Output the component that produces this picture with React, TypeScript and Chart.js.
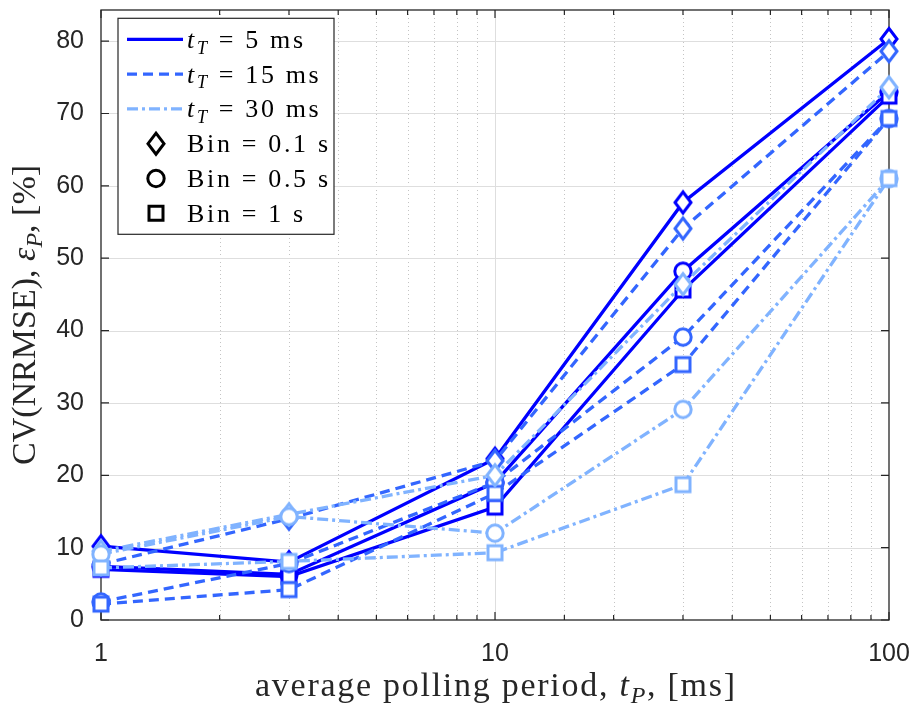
import React, { useEffect, useRef } from "react";
import { Chart, registerables } from "chart.js";

Chart.register(...registerables);

// ---------- data ----------
const pollingPeriods = [1, 3, 10, 30, 100];

const tT5_bin01 = [10.2, 8.0, 22.3, 57.7, 80.3];
const tT5_bin05 = [7.4, 6.3, 19.0, 48.2, 73.0];
const tT5_bin1 = [7.0, 6.0, 15.6, 45.6, 72.4];
const tT15_bin01 = [7.7, 14.0, 22.0, 54.1, 78.6];
const tT15_bin05 = [2.5, 7.8, 19.0, 39.1, 69.3];
const tT15_bin1 = [2.2, 4.2, 17.5, 35.3, 69.3];
const tT30_bin01 = [9.5, 14.6, 20.0, 46.4, 73.6];
const tT30_bin05 = [9.1, 14.3, 12.0, 29.1, 61.0];
const tT30_bin1 = [7.2, 8.1, 9.3, 18.7, 61.0];

const tTLabels = ["5", "15", "30"];
const binLabels = ["0.1", "0.5", "1"];
const xTickValues = [1, 10, 100];
const xTickLabels = ["1", "10", "100"];
const yTickValues = [0, 10, 20, 30, 40, 50, 60, 70, 80];
const yTickLabels = ["0", "10", "20", "30", "40", "50", "60", "70", "80"];
const xRange = [1, 100];
const yRange = [0, 84.3];

// ---------- styles ----------
const seriesValues = [
  [tT5_bin01, tT5_bin05, tT5_bin1],
  [tT15_bin01, tT15_bin05, tT15_bin1],
  [tT30_bin01, tT30_bin05, tT30_bin1],
];
const tTColors = ["#0000FF", "#3366FF", "#80B3FF"];
const tTDashes: number[][] = [[], [10, 6], [11, 4, 3, 4]];
const binShapes = ["diamond", "circle", "square"];
const AX = "#262626";
const SANS = "'Liberation Sans', Arial, Helvetica, sans-serif";
const SERIF = "'Liberation Serif', 'Times New Roman', serif";

function markerPath(ctx: CanvasRenderingContext2D, shape: string, cx: number, cy: number) {
  ctx.beginPath();
  if (shape === "diamond") {
    ctx.moveTo(cx, cy - 10.5);
    ctx.lineTo(cx + 8, cy);
    ctx.lineTo(cx, cy + 10.5);
    ctx.lineTo(cx - 8, cy);
    ctx.closePath();
  } else if (shape === "circle") {
    ctx.arc(cx, cy, 8.2, 0, Math.PI * 2);
  } else {
    ctx.rect(cx - 7, cy - 7, 14, 14);
  }
}

function makeMarker(shape: string, color: string) {
  const c = document.createElement("canvas");
  c.width = 34;
  c.height = 34;
  const g = c.getContext("2d")!;
  markerPath(g, shape, 17, 17);
  g.fillStyle = "#ffffff";
  g.fill();
  g.lineWidth = 3;
  g.strokeStyle = color;
  g.lineJoin = "miter";
  g.stroke();
  return c;
}

type Part = { t: string; it?: boolean; sub?: boolean };

function partFont(p: Part, size: number, fam: string) {
  return `${p.it ? "italic " : ""}${p.sub ? Math.round(size * 0.7) : size}px ${fam}`;
}

function layoutRich(ctx: CanvasRenderingContext2D, parts: Part[], size: number, fam: string, extra: number) {
  let x = 0;
  const items: { ch: string; font: string; x: number; dy: number }[] = [];
  let count = 0;
  parts.forEach((p) => {
    const f = partFont(p, size, fam);
    ctx.font = f;
    for (const ch of p.t) {
      items.push({ ch, font: f, x, dy: p.sub ? size * 0.22 : 0 });
      x += ctx.measureText(ch).width + extra;
      count++;
    }
  });
  return { items, width: x - extra, count };
}

function fitExtra(ctx: CanvasRenderingContext2D, parts: Part[], size: number, fam: string, target: number) {
  const l = layoutRich(ctx, parts, size, fam, 0);
  return Math.max(0, (target - l.width) / Math.max(1, l.count - 1));
}

function drawRich(
  ctx: CanvasRenderingContext2D,
  parts: Part[],
  size: number,
  fam: string,
  extra: number,
  x: number,
  y: number,
  align: "left" | "center"
) {
  const l = layoutRich(ctx, parts, size, fam, extra);
  const x0 = align === "center" ? x - l.width / 2 : x;
  ctx.textAlign = "left";
  ctx.textBaseline = "alphabetic";
  l.items.forEach((it) => {
    ctx.font = it.font;
    ctx.fillText(it.ch, x0 + it.x, y + it.dy);
  });
}

const xTitle: Part[] = [
  { t: "average polling period, " },
  { t: "t", it: true },
  { t: "P", it: true, sub: true },
  { t: ", [ms]" },
];
const yTitle: Part[] = [
  { t: "CV(NRMSE), " },
  { t: "ε", it: true },
  { t: "P", it: true, sub: true },
  { t: ", [%]" },
];

const isMajor = (v: number) => Math.abs(Math.log10(v) - Math.round(Math.log10(v))) < 1e-6;

const decorPlugin = {
  id: "decor",
  beforeDatasetsDraw(chart: any) {
    const { ctx, chartArea: a, scales } = chart;
    const xs = scales.x;
    const ys = scales.y;
    ctx.save();
    // vertical grid
    xs.ticks.forEach((t: any) => {
      const px = Math.round(xs.getPixelForValue(t.value)) + 0.5;
      if (px <= a.left + 1 || px >= a.right - 1) return;
      const major = isMajor(t.value);
      ctx.lineWidth = 1;
      ctx.strokeStyle = major ? "#dedede" : "#c4c4c4";
      ctx.setLineDash(major ? [] : [1, 3]);
      ctx.beginPath();
      ctx.moveTo(px, a.top);
      ctx.lineTo(px, a.bottom);
      ctx.stroke();
    });
    ctx.setLineDash([]);
    // horizontal grid
    yTickValues.forEach((v) => {
      const py = Math.round(ys.getPixelForValue(v)) + 0.5;
      if (py >= a.bottom - 1 || py <= a.top + 1) return;
      ctx.lineWidth = 1;
      ctx.strokeStyle = "#dedede";
      ctx.beginPath();
      ctx.moveTo(a.left, py);
      ctx.lineTo(a.right, py);
      ctx.stroke();
    });
    // box
    ctx.strokeStyle = AX;
    ctx.lineWidth = 1.3;
    ctx.strokeRect(a.left, a.top, a.right - a.left, a.bottom - a.top);
    // ticks
    ctx.lineWidth = 1.2;
    ctx.beginPath();
    yTickValues.forEach((v) => {
      const py = ys.getPixelForValue(v);
      ctx.moveTo(a.left, py);
      ctx.lineTo(a.left + 8, py);
      ctx.moveTo(a.right, py);
      ctx.lineTo(a.right - 8, py);
    });
    xs.ticks.forEach((t: any) => {
      const px = xs.getPixelForValue(t.value);
      const len = isMajor(t.value) ? 8 : 5;
      ctx.moveTo(px, a.bottom);
      ctx.lineTo(px, a.bottom - len);
      ctx.moveTo(px, a.top);
      ctx.lineTo(px, a.top + len);
    });
    ctx.stroke();
    ctx.restore();
  },
  afterDraw(chart: any) {
    const { ctx, chartArea: a } = chart;
    ctx.save();
    // axis titles
    ctx.fillStyle = AX;
    const tSize = 34;
    const xExtra = fitExtra(ctx, xTitle, tSize, SERIF, 480);
    drawRich(ctx, xTitle, tSize, SERIF, xExtra, (a.left + a.right) / 2, 696, "center");
    const yExtra = fitExtra(ctx, yTitle, tSize, SERIF, 292);
    ctx.save();
    ctx.translate(35, (a.top + a.bottom) / 2);
    ctx.rotate(-Math.PI / 2);
    drawRich(ctx, yTitle, tSize, SERIF, yExtra, 0, 0, "center");
    ctx.restore();

    // legend
    const L = { left: 118, top: 18.3, right: 334, bottom: 234.3 };
    ctx.fillStyle = "#ffffff";
    ctx.fillRect(L.left, L.top, L.right - L.left, L.bottom - L.top);
    ctx.strokeStyle = AX;
    ctx.lineWidth = 1.2;
    ctx.strokeRect(L.left, L.top, L.right - L.left, L.bottom - L.top);
    const lSize = 26;
    const binParts = (b: string): Part[] => [{ t: `Bin = ${b} s` }];
    const tParts = (t: string): Part[] => [
      { t: "t", it: true },
      { t: "T", it: true, sub: true },
      { t: ` = ${t} ms` },
    ];
    const lExtra = fitExtra(ctx, binParts(binLabels[0]), lSize, SERIF, 141);
    const rowY = (i: number) => L.top + 21 + i * 34.8;
    tTLabels.forEach((t, i) => {
      const y = rowY(i);
      ctx.save();
      ctx.strokeStyle = tTColors[i];
      ctx.lineWidth = 3.2;
      ctx.lineCap = "butt";
      ctx.setLineDash(tTDashes[i]);
      ctx.beginPath();
      ctx.moveTo(127, y);
      ctx.lineTo(183, y);
      ctx.stroke();
      ctx.restore();
      ctx.fillStyle = "#000000";
      drawRich(ctx, tParts(t), lSize, SERIF, lExtra, 187, y + 8.5, "left");
    });
    binLabels.forEach((b, j) => {
      const y = rowY(3 + j);
      markerPath(ctx, binShapes[j], 156, y);
      ctx.fillStyle = "#ffffff";
      ctx.fill();
      ctx.strokeStyle = "#000000";
      ctx.lineWidth = 3;
      ctx.lineJoin = "miter";
      ctx.stroke();
      ctx.fillStyle = "#000000";
      drawRich(ctx, binParts(b), lSize, SERIF, lExtra, 187, y + 8.5, "left");
    });
    ctx.restore();
  },
};

export default function App() {
  const ref = useRef<HTMLCanvasElement>(null);
  useEffect(() => {
    const canvas = ref.current!;
    const datasets: any[] = [];
    let idx = 0;
    seriesValues.forEach((group, ti) => {
      group.forEach((vals, bi) => {
        datasets.push({
          label: `tT=${tTLabels[ti]} bin=${binLabels[bi]}`,
          data: vals.map((v, i) => ({ x: pollingPeriods[i], y: v })),
          borderColor: tTColors[ti],
          backgroundColor: "#ffffff",
          borderWidth: 3.3,
          borderDash: tTDashes[ti],
          borderCapStyle: "butt",
          borderJoinStyle: "miter",
          tension: 0,
          fill: false,
          pointStyle: makeMarker(binShapes[bi], tTColors[ti]),
          pointRadius: 10,
          pointHoverRadius: 10,
          pointBorderWidth: 0,
          clip: false,
          order: 8 - idx,
        });
        idx++;
      });
    });

    const chart = new Chart(canvas, {
      type: "line",
      data: { datasets },
      options: {
        animation: false,
        responsive: false,
        devicePixelRatio: 1,
        events: [],
        layout: { padding: { left: 0, right: 22, top: 2, bottom: 0 } },
        plugins: { legend: { display: false }, tooltip: { enabled: false }, title: { display: false } },
        scales: {
          x: {
            type: "logarithmic",
            min: xRange[0],
            max: xRange[1],
            grid: { display: false, drawTicks: false },
            border: { display: false },
            ticks: {
              autoSkip: false,
              maxRotation: 0,
              minRotation: 0,
              padding: 19,
              color: AX,
              font: { family: SANS, size: 25 },
              callback: (v: any) => {
                const k = xTickValues.findIndex((t) => Math.abs(t - Number(v)) < 1e-6);
                return k >= 0 ? xTickLabels[k] : "";
              },
            },
            afterFit: (s: any) => {
              s.height = 89;
              s.paddingLeft = 0;
              s.paddingRight = 0;
            },
          },
          y: {
            type: "linear",
            min: yRange[0],
            max: yRange[1],
            grid: { display: false, drawTicks: false },
            border: { display: false },
            ticks: {
              stepSize: 10,
              includeBounds: false,
              padding: 17,
              color: AX,
              font: { family: SANS, size: 25 },
              callback: (v: any) => {
                const k = yTickValues.findIndex((t) => Math.abs(t - Number(v)) < 1e-6);
                return k >= 0 ? yTickLabels[k] : "";
              },
            },
            afterFit: (s: any) => {
              s.width = 101;
              s.paddingTop = 0;
              s.paddingBottom = 0;
            },
          },
        },
      } as any,
      plugins: [decorPlugin as any],
    });
    return () => chart.destroy();
  }, []);

  return (
    <div style={{ position: "fixed", left: 0, top: 0, width: 911, height: 709, background: "#ffffff" }}>
      <canvas ref={ref} width={911} height={709} style={{ display: "block", width: 911, height: 709 }} />
    </div>
  );
}
